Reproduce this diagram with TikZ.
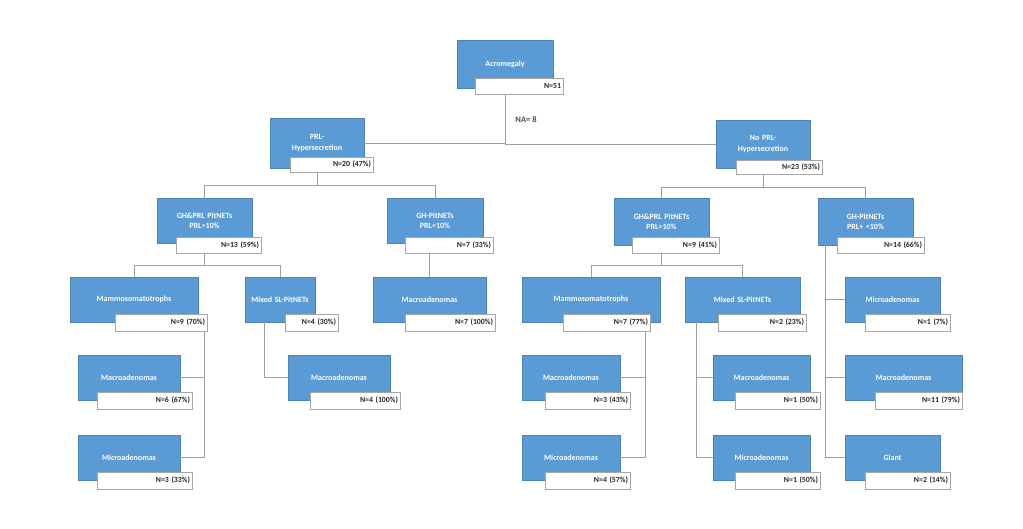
\documentclass[tikz,border=0pt]{standalone}
\usepackage{fontspec}
\setmainfont{Carlito}
\begin{document}
\begin{tikzpicture}[x=1pt,y=-1pt,
  bl/.style={fill=boxblue,draw=boxblue!85!black,line width=0.4pt,text=white,font=\bfseries\fontsize{8}{10.5}\selectfont,align=center,inner sep=1pt},
  lb/.style={fill=white,draw=gray!70,line width=0.5pt,text=black!85,font=\bfseries\fontsize{7.8}{8.5}\selectfont,align=right,inner sep=2pt},
  cn/.style={draw=gray!75,line width=0.7pt}]
\definecolor{boxblue}{HTML}{5B9BD5}
\useasboundingbox (0,0) rectangle (1023,529);
\newcommand\B[6]{\node[bl,minimum width={(#4-#2)*1pt},minimum height={(#5-#3)*1pt},text width={(#4-#2-2)*1pt}] (#1) at ({(#2+#4)/2},{(#3+#5)/2}) {#6};}
\newcommand\Lb[6]{\node[lb,minimum height={(#5-#3)*1pt},text width={(#4-#2-4)*1pt}] (#1) at ({(#2+#4)/2},{(#3+#5)/2}) {#6};}
% level 0
\B{acro}{457}{40}{553}{88}{Acromegaly\\[8pt]}
\Lb{acroL}{475}{78}{563}{94}{N=51}
\node[text=gray!60!black,font=\bfseries\fontsize{8.5}{10}\selectfont] (na) at (526,120) {NA= 8};
% level 1
\B{prl}{270}{118}{364}{168}{PRL-\\Hypersecretion\\[4pt]}
\Lb{prlL}{290}{157}{373}{172}{N=20 (47\%)}
\B{noprl}{716}{120}{810}{168}{No PRL-\\Hypersecretion\\[4pt]}
\Lb{noprlL}{736}{160}{822}{174}{N=23 (53\%)}
% level 2
\B{ghprlA}{157}{198}{252}{243}{GH\&PRL PitNETs\\PRL>10\%\\[3pt]}
\Lb{ghprlAL}{176}{237}{261}{253}{N=13 (59\%)}
\B{ghA}{387}{198}{483}{243}{GH-PitNETs\\PRL<10\%\\[3pt]}
\Lb{ghAL}{405}{237}{493}{253}{N=7 (33\%)}
\B{ghprlB}{614}{198}{709}{245}{GH\&PRL PitNETs\\PRL>10\%\\[3pt]}
\Lb{ghprlBL}{632}{237}{719}{253}{N=9 (41\%)}
\B{ghB}{818}{198}{913}{245}{GH-PitNETs\\PRL+ <10\%\\[3pt]}
\Lb{ghBL}{837}{237}{924}{253}{N=14 (66\%)}
% level 3
\B{mamA}{70}{277}{198}{322}{Mammosomatotrophs\\[6pt]}
\Lb{mamAL}{115}{314}{207}{331}{N=9 (70\%)}
\B{mixA}{245}{277}{315}{322}{Mixed SL-PitNETs\\[6pt]}
\Lb{mixAL}{285}{314}{338}{331}{N=4 (30\%)}
\B{macA}{373}{277}{486}{322}{Macroadenomas\\[6pt]}
\Lb{macAL}{405}{314}{495}{331}{N=7 (100\%)}
\B{mamB}{522}{277}{660}{322}{Mammosomatotrophs\\[6pt]}
\Lb{mamBL}{563}{314}{650}{331}{N=7 (77\%)}
\B{mixB}{685}{277}{800}{322}{Mixed SL-PitNETs\\[6pt]}
\Lb{mixBL}{718}{314}{806}{331}{N=2 (23\%)}
\B{micB3}{845}{277}{940}{322}{Microadenomas\\[6pt]}
\Lb{micB3L}{865}{314}{950}{331}{N=1 (7\%)}
% level 4
\B{macA1}{78}{355}{180}{400}{Macroadenomas\\[6pt]}
\Lb{macA1L}{97}{392}{192}{409}{N=6 (67\%)}
\B{micA1}{78}{435}{180}{480}{Microadenomas\\[6pt]}
\Lb{micA1L}{97}{472}{192}{489}{N=3 (33\%)}
\B{macA2}{288}{355}{390}{400}{Macroadenomas\\[6pt]}
\Lb{macA2L}{310}{392}{400}{409}{N=4 (100\%)}
\B{macB1}{522}{355}{620}{400}{Macroadenomas\\[6pt]}
\Lb{macB1L}{545}{392}{630}{409}{N=3 (43\%)}
\B{micB1}{522}{435}{620}{480}{Microadenomas\\[6pt]}
\Lb{micB1L}{545}{472}{630}{489}{N=4 (57\%)}
\B{macB2}{713}{355}{810}{400}{Macroadenomas\\[6pt]}
\Lb{macB2L}{735}{392}{820}{409}{N=1 (50\%)}
\B{micB2}{713}{435}{810}{480}{Microadenomas\\[6pt]}
\Lb{micB2L}{735}{472}{820}{489}{N=1 (50\%)}
\B{macB3}{845}{355}{962}{400}{Macroadenomas\\[6pt]}
\Lb{macB3L}{875}{392}{962}{409}{N=11 (79\%)}
\B{giant}{845}{435}{940}{480}{Giant\\[6pt]}
\Lb{giantL}{865}{472}{950}{489}{N=2 (14\%)}
% connectors
\draw[cn] (acro |- acroL.south) |- (prl.east);
\draw[cn] (acro |- acroL.south) |- (noprl.west);
\draw[cn] (prl |- prlL.south) -- ++(0,13) -| (ghprlA.north);
\draw[cn] (prl |- prlL.south) -- ++(0,13) -| (ghA.north);
\draw[cn] (noprl |- noprlL.south) -- ++(0,13) -| (ghprlB.north);
\draw[cn] (noprl |- noprlL.south) -- ++(0,13) -| (ghB.north);
\draw[cn] (ghprlA |- ghprlAL.south) -- ++(0,12) -| (mamA.north);
\draw[cn] (ghprlA |- ghprlAL.south) -- ++(0,12) -| (mixA.north);
\draw[cn] (ghprlB |- ghprlBL.south) -- ++(0,12) -| (mamB.north);
\draw[cn] (ghprlB |- ghprlBL.south) -- ++(0,12) -| (mixB.north);
\draw[cn] (macA.north |- ghAL.south) -- (macA.north);
\draw[cn] ([xshift=8pt]ghB.south west) |- (micB3.west);
\draw[cn] ([xshift=8pt]ghB.south west) |- (macB3.west);
\draw[cn] ([xshift=8pt]ghB.south west) |- (giant.west);
\draw[cn] ([xshift=-3pt]mamAL.south east) |- (macA1.east);
\draw[cn] ([xshift=-3pt]mamAL.south east) |- (micA1.east);
\draw[cn] ([xshift=20pt]mixA.south west) |- (macA2.west);
\draw[cn] ([xshift=-5pt]mamBL.south east) |- (macB1.east);
\draw[cn] ([xshift=-5pt]mamBL.south east) |- (micB1.east);
\draw[cn] ([xshift=12pt]mixB.south west) |- (macB2.west);
\draw[cn] ([xshift=12pt]mixB.south west) |- (micB2.west);
\end{tikzpicture}
\end{document}
